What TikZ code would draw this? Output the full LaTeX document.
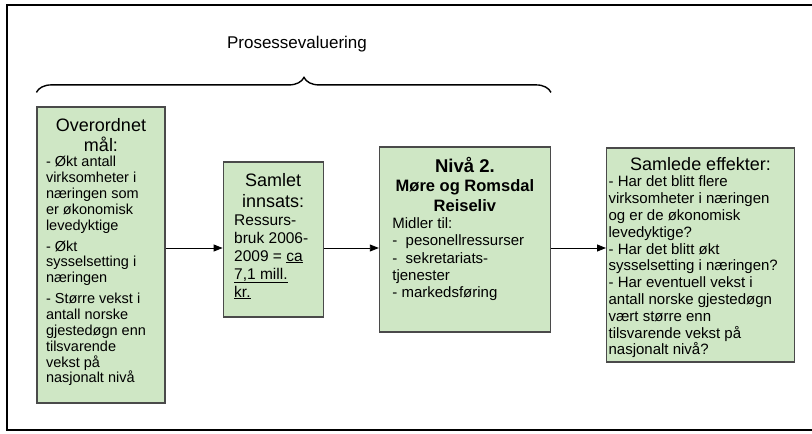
\documentclass[tikz,border=0pt]{standalone}
\usepackage{fontspec}
\setmainfont{Liberation Sans}
\usetikzlibrary{arrows.meta, positioning, decorations.pathreplacing}
\definecolor{boxGreen}{HTML}{CFE7C5}
\definecolor{edgeGrey}{HTML}{4A4A4A}
\newcommand{\headfont}{\fontsize{18}{20}\selectfont}

\begin{document}
\begin{tikzpicture}[
    x=1pt, y=1pt,
    box/.style={rectangle, draw=edgeGrey, line width=1.2pt, fill=boxGreen, inner sep=0pt},
    arrow/.style={-{Triangle[length=9pt, width=7pt]}, line width=0.9pt},
    brace/.style={decorate, decoration={brace, amplitude=15pt, aspect=0.52}, line width=1.4pt},
    frame/.style={line width=2.6pt}
]
    \useasboundingbox (0,0) rectangle (812,-434);
    % outer frame, right side runs off the page
    \draw[frame] (812,-5) -- (7,-5) -- (7,-430) -- (812,-430);

    % Boxes
    \node[box, minimum width=128pt, minimum height=296pt] (goal) at (101,-255)
        {\parbox[c][296pt][t]{110pt}{\vspace*{11pt}%
        {\centering\headfont Overordnet\\mål:\par}
        \fontsize{14.5}{15.8}\selectfont
        - Økt antall\\virksomheter i\\næringen som\\er økonomisk\\levedyktige\par\vspace{5.3pt}
        - Økt\\sysselsetting i\\næringen\par\vspace{5.3pt}
        - Større vekst i\\antall norske\\gjestedøgn enn\\tilsvarende\\vekst på\\nasjonalt nivå}};
    \node[box, minimum width=100pt, minimum height=155pt, right=57pt of goal, yshift=15.5pt] (input)
        {\parbox[c][155pt][t]{78pt}{\vspace*{11pt}%
        {\centering\fontsize{18}{21}\selectfont Samlet\\innsats:\par}
        \fontsize{15.5}{18}\selectfont
        Ressurs-\\bruk 2006-\\2009 = \underline{ca}\\\underline{7,1 mill.}\\\underline{kr.}}};
    \node[box, minimum width=171pt, minimum height=185pt, right=55pt of input] (level)
        {\parbox[c][185pt][t]{145pt}{\vspace*{10pt}%
        {\centering\bfseries\fontsize{18.5}{21}\selectfont Nivå 2.\\
        \fontsize{16.5}{19.5}\selectfont Møre og Romsdal\\Reiseliv\par}
        \fontsize{15}{17.3}\selectfont
        Midler til:\\-~ pesonellressurser\\-~ sekretariats-\\tjenester\\- markedsføring}};
    \node[box, minimum width=188pt, minimum height=214pt, right=55pt of level, yshift=-15.5pt] (effects)
        {\parbox[c][214pt][t]{184pt}{\vspace*{9pt}%
        {\centering\headfont Samlede effekter:\par}
        \fontsize{15}{16.8}\selectfont
        - Har det blitt flere\\virksomheter i næringen\\og er de økonomisk\\levedyktige?\\
        - Har det blitt økt\\sysselsetting i næringen?\\
        - Har eventuell vekst i\\antall norske gjestedøgn\\vært større enn\\tilsvarende vekst på\\nasjonalt nivå?}};

    % Arrows
    \coordinate (axis) at (0,-248);
    \draw[arrow] (goal.east |- axis) -- (input.west |- axis);
    \draw[arrow] (input.east |- axis) -- (level.west |- axis);
    \draw[arrow] (level.east |- axis) -- (effects.west |- axis);

    % Process evaluation brace
    \draw[brace] ([yshift=14pt]goal.north west) -- ([yshift=14pt]goal.north west -| level.north east);
    \node[font=\fontsize{17}{20}\selectfont] (proc) at (297,-44) {Prosessevaluering};
\end{tikzpicture}
\end{document}
